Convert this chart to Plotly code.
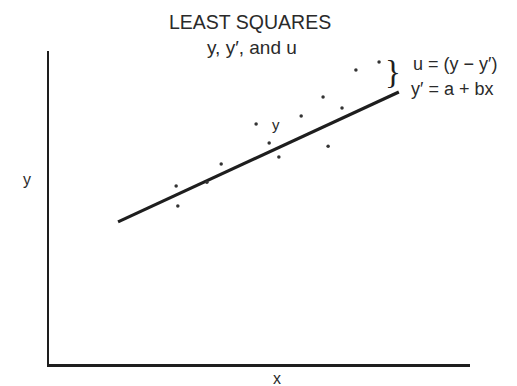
import plotly.graph_objects as go

# Observed points (arbitrary units)
obs_x = [3.02, 3.06, 3.75, 4.09, 4.92, 5.23, 5.46, 5.99, 6.51, 6.63, 6.96, 7.29, 7.84]
obs_y = [5.69, 5.05, 5.81, 6.39, 7.67, 7.06, 6.61, 7.92, 8.53, 6.96, 8.18, 9.39, 9.65]

# Fitted line y' = a + bx
a, b = 3.52, 0.622
line_x = [1.64, 8.31]
line_y = [a + b * v for v in line_x]

FONT = "Liberation Sans, Arial, sans-serif"
INK = "#1e1e1e"
TXT = "#2a2a2a"

W, H = 517, 386
L, R, T, B = 49, 47, 51, 22
PW, PH = W - L - R, H - T - B

fig = go.Figure()
fig.add_trace(go.Scatter(x=line_x, y=line_y, mode="lines",
                         line=dict(color=INK, width=3.2), hoverinfo="skip"))
fig.add_trace(go.Scatter(x=obs_x, y=obs_y, mode="markers",
                         marker=dict(color="#333", size=3.5), hoverinfo="skip"))

fig.update_layout(
    width=W, height=H,
    margin=dict(l=L, r=R, t=T, b=B),
    paper_bgcolor="white", plot_bgcolor="white",
    showlegend=False,
    xaxis=dict(range=[0, 10], showline=True, linecolor=INK, linewidth=2.5,
               showgrid=False, zeroline=False, showticklabels=False, ticks=""),
    yaxis=dict(range=[0, 10], showline=True, linecolor=INK, linewidth=2.2,
               showgrid=False, zeroline=False, showticklabels=False, ticks=""),
    font=dict(family=FONT, color=TXT),
)


def px(x, y):
    return (x - L) / PW, (H - B - y) / PH


ann = [
    dict(text="LEAST SQUARES", x=250, y=22, size=19.5),
    dict(text="y, y′, and u", x=252, y=47, size=19),
    dict(text="u = (y − y′)", x=455, y=64, size=18),
    dict(text="y′ = a + bx", x=452, y=89, size=18),
    dict(text="y", x=276, y=125, size=15),
    dict(text="y", x=27, y=179, size=16),
    dict(text="x", x=277, y=378, size=16),
]
for t in ann:
    ax, ay = px(t["x"], t["y"])
    fig.add_annotation(text=t["text"], xref="paper", yref="paper",
                       x=ax, y=ay, xanchor="center", yanchor="middle",
                       showarrow=False,
                       font=dict(size=t["size"], family=FONT, color=TXT))

# Brace marking the residual u
bx, by = px(393, 72)
fig.add_annotation(text="}", xref="paper", yref="paper",
                   x=bx, y=by, xanchor="center", yanchor="middle",
                   showarrow=False,
                   font=dict(size=33, family="Liberation Serif, serif", color=INK))

fig.write_html("out.html")
